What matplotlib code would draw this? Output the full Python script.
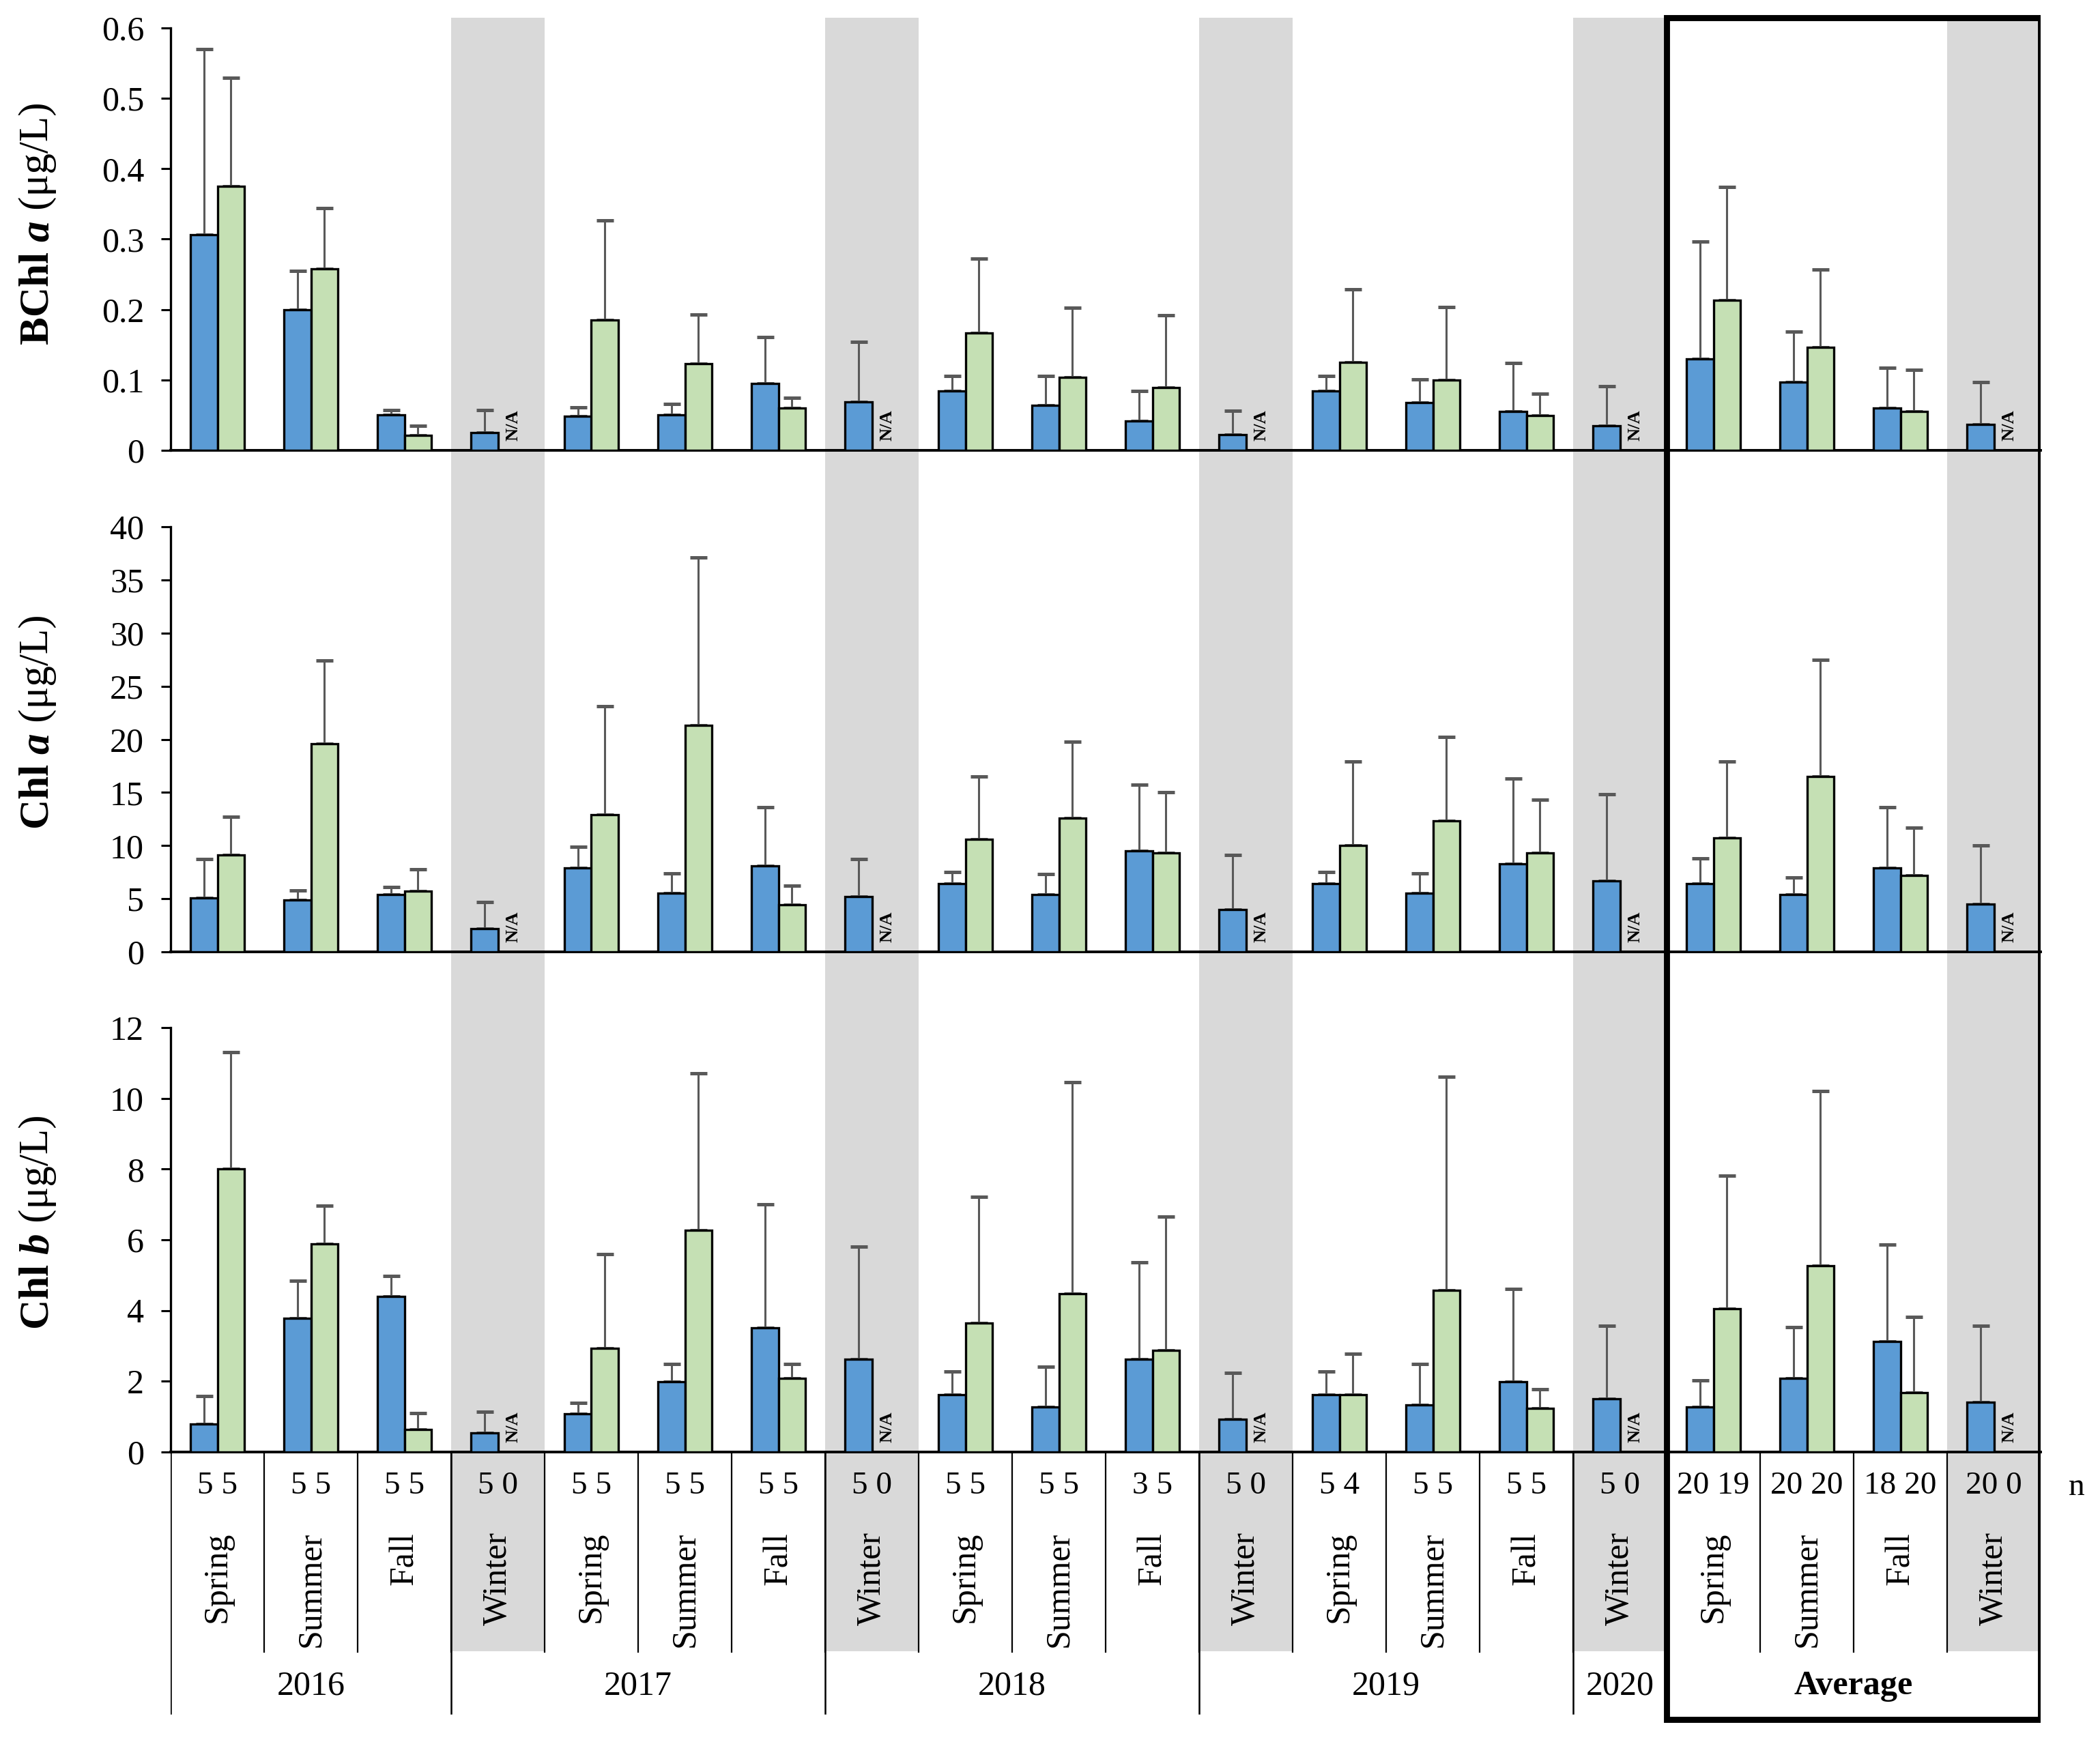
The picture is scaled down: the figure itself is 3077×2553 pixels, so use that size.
import numpy as np
import matplotlib
matplotlib.use('Agg')
import matplotlib.pyplot as plt
from matplotlib.patches import Rectangle
from matplotlib.ticker import FuncFormatter

plt.rcParams['font.family'] = ['Liberation Serif', 'DejaVu Serif']

# categories
seasons = ['Spring', 'Summer', 'Fall',
           'Winter', 'Spring', 'Summer', 'Fall',
           'Winter', 'Spring', 'Summer', 'Fall',
           'Winter', 'Spring', 'Summer', 'Fall',
           'Winter',
           'Spring', 'Summer', 'Fall', 'Winter']
years = ['2016', '2017', '2018', '2019', '2020', 'Average']
year_sizes = [3, 4, 4, 4, 1, 4]
n_blue = [5, 5, 5, 5, 5, 5, 5, 5, 5, 5, 3, 5, 5, 5, 5, 5, 20, 20, 18, 20]
n_green = [5, 5, 5, 0, 5, 5, 5, 0, 5, 5, 5, 0, 4, 5, 5, 0, 19, 20, 20, 0]

nan = np.nan

# BChl a (ug/L)
bchl_blue = [0.306, 0.200, 0.050, 0.025, 0.048, 0.050, 0.095, 0.069, 0.084, 0.064,
             0.042, 0.022, 0.084, 0.068, 0.055, 0.035, 0.130, 0.097, 0.060, 0.037]
bchl_blue_sd = [0.264, 0.055, 0.007, 0.032, 0.013, 0.016, 0.066, 0.085, 0.022, 0.042,
                0.042, 0.034, 0.022, 0.033, 0.069, 0.056, 0.167, 0.072, 0.057, 0.060]
bchl_green = [0.375, 0.258, 0.021, nan, 0.185, 0.123, 0.060, nan, 0.167, 0.104,
              0.089, nan, 0.125, 0.100, 0.049, nan, 0.213, 0.146, 0.055, nan]
bchl_green_sd = [0.154, 0.086, 0.014, nan, 0.142, 0.070, 0.015, nan, 0.105, 0.099,
                 0.103, nan, 0.104, 0.104, 0.031, nan, 0.161, 0.111, 0.059, nan]

# Chl a (ug/L)
chla_blue = [5.1, 4.9, 5.4, 2.2, 7.9, 5.5, 8.1, 5.2, 6.4, 5.4,
             9.5, 4.0, 6.4, 5.5, 8.3, 6.7, 6.4, 5.4, 7.9, 4.5]
chla_blue_sd = [3.6, 0.9, 0.7, 2.5, 2.0, 1.9, 5.5, 3.5, 1.1, 1.9,
                6.2, 5.1, 1.1, 1.9, 8.0, 8.1, 2.4, 1.6, 5.7, 5.5]
chla_green = [9.1, 19.6, 5.7, nan, 12.9, 21.3, 4.4, nan, 10.6, 12.6,
              9.3, nan, 10.0, 12.3, 9.3, nan, 10.7, 16.5, 7.2, nan]
chla_green_sd = [3.6, 7.8, 2.1, nan, 10.2, 15.8, 1.8, nan, 5.9, 7.2,
                 5.7, nan, 7.9, 7.9, 5.0, nan, 7.2, 11.0, 4.5, nan]

# Chl b (ug/L)
chlb_blue = [0.79, 3.79, 4.39, 0.54, 1.09, 1.99, 3.51, 2.63, 1.63, 1.28,
             2.62, 0.92, 1.63, 1.34, 1.98, 1.50, 1.28, 2.09, 3.12, 1.40]
chlb_blue_sd = [0.80, 1.06, 0.58, 0.59, 0.29, 0.50, 3.50, 3.18, 0.65, 1.14,
                2.75, 1.31, 0.65, 1.14, 2.64, 2.07, 0.74, 1.44, 2.75, 2.17]
chlb_green = [8.01, 5.88, 0.63, nan, 2.94, 6.27, 2.08, nan, 3.64, 4.47,
              2.88, nan, 1.63, 4.58, 1.23, nan, 4.05, 5.27, 1.67, nan]
chlb_green_sd = [3.29, 1.08, 0.47, nan, 2.66, 4.43, 0.41, nan, 3.58, 5.98,
                 3.78, nan, 1.15, 6.04, 0.55, nan, 3.76, 4.93, 2.15, nan]

BLUE = '#5B9BD5'
GREEN = '#C5E0B4'
GREY = '#D9D9D9'
ERR = '#595959'

W, H = 3077, 2553


def fy(px):
    return 1 - px / H


fig = plt.figure(figsize=(W / 200, H / 200), dpi=200)
x0, x1 = 250 / W, 2990 / W
ncat = len(seasons)
x = np.arange(ncat)

# background layer: shading, table and box
bg = fig.add_axes([x0, 0, x1 - x0, 1])
bg.set_xlim(-0.5, ncat - 0.5)
bg.set_ylim(0, 1)
bg.axis('off')
bg.set_zorder(0)

for i, s in enumerate(seasons):
    if s == 'Winter':
        bg.axvspan(i - 0.5, i + 0.5, ymin=fy(2420), ymax=fy(26), color=GREY, lw=0)

edges = np.cumsum([0] + year_sizes) - 0.5
for i in range(1, ncat):
    bg.plot([i - 0.5, i - 0.5], [fy(2128), fy(2421)], color='black', lw=0.8)
for e in edges[:-1]:
    bg.plot([e, e], [fy(2128), fy(2511)], color='black', lw=0.9)

for i in range(ncat):
    bg.text(i, fy(2178), f'{n_blue[i]} {n_green[i]}', ha='center', va='center', fontsize=17)
    bg.text(i, fy(2245), seasons[i], rotation=90, ha='center', va='top', fontsize=18)

for k, yr in enumerate(years):
    cx = (edges[k] + edges[k + 1]) / 2
    bg.text(cx, fy(2471), yr, ha='center', va='center', fontsize=18,
            fontweight='bold' if yr == 'Average' else 'normal')

fig.text(3043 / W, fy(2180), 'n', ha='center', va='center', fontsize=17)

bg.add_patch(Rectangle((edges[-2], fy(2520)), edges[-1] - edges[-2], fy(26) - fy(2520),
                       fill=False, ec='black', lw=3.2, zorder=5))

panels = [
    (bchl_blue, bchl_blue_sd, bchl_green, bchl_green_sd, 660, 41, 0.6, 0.1, 'BChl '),
    (chla_blue, chla_blue_sd, chla_green, chla_green_sd, 1395, 772, 40, 5, 'Chl '),
    (chlb_blue, chlb_blue_sd, chlb_green, chlb_green_sd, 2128, 1506, 12, 2, 'Chl '),
]
label_parts = [('a', 505), ('a', 1215), ('b', 1948)]

bw = 0.29
for (blue, bsd, green, gsd, p0, p1, ymax, step, name), (letter, lab_px) in zip(panels, label_parts):
    ax = fig.add_axes([x0, fy(p0), x1 - x0, fy(p1) - fy(p0)])
    ax.set_zorder(1)
    ax.patch.set_alpha(0)
    blue = np.array(blue)
    green = np.array(green)
    ok = ~np.isnan(green)

    ax.bar(x - bw / 2, blue, bw, color=BLUE, edgecolor='black', lw=1.2, zorder=3)
    ax.bar(x[ok] + bw / 2, green[ok], bw, color=GREEN, edgecolor='black', lw=1.2, zorder=3)
    ax.errorbar(x - bw / 2, blue, yerr=[np.zeros(ncat), bsd], fmt='none', ecolor=ERR,
                elinewidth=1.1, capsize=4.5, capthick=1.8, zorder=2)
    ax.errorbar(x[ok] + bw / 2, green[ok], yerr=[np.zeros(ok.sum()), np.array(gsd)[ok]],
                fmt='none', ecolor=ERR, elinewidth=1.1, capsize=4.5, capthick=1.8, zorder=2)
    for i in x[~ok]:
        ax.annotate('N/A', xy=(i + bw / 2, 0), xytext=(1, 5), textcoords='offset points',
                    rotation=90, ha='center', va='bottom', fontsize=9.5, fontweight='bold')

    ax.set_xlim(-0.5, ncat - 0.5)
    ax.set_ylim(0, ymax)
    ax.set_yticks(np.arange(0, ymax + step / 2, step))
    ax.yaxis.set_major_formatter(FuncFormatter(lambda v, p: f'{v:g}'))
    ax.set_xticks([])
    ax.tick_params(axis='y', direction='out', length=5, width=1.1, labelsize=18, pad=9)
    for sp in ['top', 'right']:
        ax.spines[sp].set_visible(False)
    ax.spines['left'].set_linewidth(1.2)
    ax.spines['bottom'].set_linewidth(1.4)

    # y label built from bold / bold-italic / normal pieces
    t1 = fig.text(0.018, fy(lab_px), name, rotation=90, ha='center', va='bottom',
                  fontsize=22, fontweight='bold')
    t2 = ax.annotate(letter, xy=(0.5, 1), xycoords=t1, rotation=90, ha='center', va='bottom',
                     fontsize=22, fontweight='bold', fontstyle='italic', annotation_clip=False)
    ax.annotate(' (\u03bcg/L)', xy=(0.5, 1), xycoords=t2, rotation=90, ha='center',
                va='bottom', fontsize=22, annotation_clip=False)

fig.savefig('out.png', dpi=200)
